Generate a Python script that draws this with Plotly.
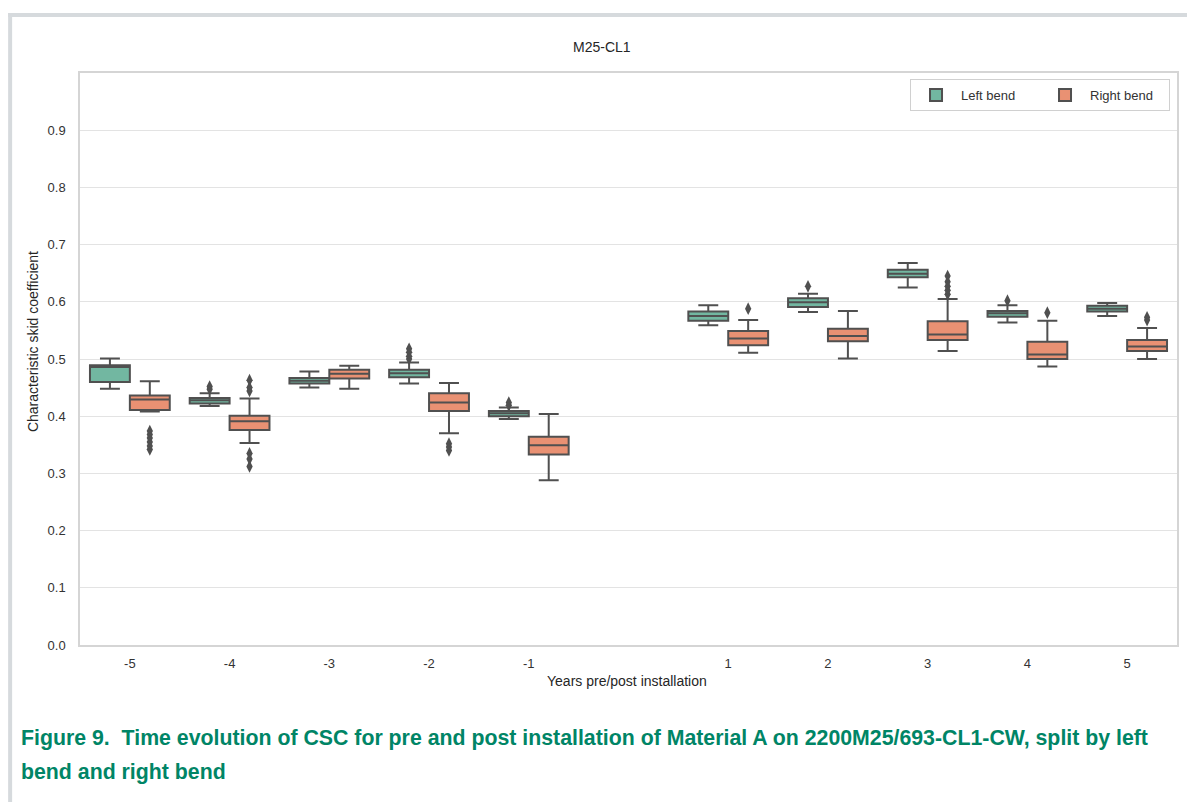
import plotly.graph_objects as go

# ---------------- data ----------------
years = [-5, -4, -3, -2, -1, 1, 2, 3, 4, 5]
tick_labels = ["-5", "-4", "-3", "-2", "-1", "1", "2", "3", "4", "5"]

left_lf = [0.448, 0.418, 0.450, 0.457, 0.395, 0.559, 0.582, 0.625, 0.564, 0.575]
left_q1 = [0.460, 0.422, 0.457, 0.468, 0.400, 0.567, 0.591, 0.643, 0.574, 0.583]
left_med = [0.486, 0.428, 0.462, 0.475, 0.405, 0.575, 0.599, 0.649, 0.580, 0.588]
left_q3 = [0.489, 0.432, 0.467, 0.481, 0.409, 0.583, 0.606, 0.656, 0.584, 0.593]
left_uf = [0.501, 0.440, 0.478, 0.494, 0.415, 0.594, 0.614, 0.668, 0.594, 0.598]

right_lf = [0.408, 0.353, 0.448, 0.370, 0.288, 0.511, 0.501, 0.514, 0.487, 0.500]
right_q1 = [0.411, 0.376, 0.466, 0.409, 0.333, 0.524, 0.531, 0.533, 0.500, 0.514]
right_med = [0.429, 0.391, 0.474, 0.424, 0.349, 0.536, 0.540, 0.543, 0.508, 0.522]
right_q3 = [0.436, 0.401, 0.481, 0.440, 0.364, 0.549, 0.553, 0.566, 0.530, 0.533]
right_uf = [0.461, 0.431, 0.488, 0.458, 0.404, 0.568, 0.584, 0.605, 0.567, 0.554]

left_out_year = [-4, -4, -2, -2, -2, -2, -1, -1, 2, 4]
left_out_val = [0.447, 0.452, 0.500, 0.505, 0.512, 0.518, 0.419, 0.424, 0.627, 0.602]

right_out_year = [-5, -5, -5, -5, -5, -5, -4, -4, -4, -4, -4, -4,
                  -2, -2, -2, 1, 3, 3, 3, 3, 3, 4, 5, 5]
right_out_val = [0.342, 0.348, 0.355, 0.362, 0.368, 0.374, 0.444, 0.450, 0.463, 0.312, 0.325, 0.335,
                 0.340, 0.346, 0.352, 0.588, 0.613, 0.620, 0.627, 0.635, 0.645, 0.581, 0.568, 0.573]

series_names = ["Left bend", "Right bend"]

# ---------------- style ----------------
GREEN = "#72b7a1"
ORANGE = "#e99173"
LINE = "#505050"
FONT = "Liberation Sans, Arial, sans-serif"
W, H = 1187, 802
PL, PR, PT, PB = 80, 1179, 73, 645
OFF = 0.2
BOXW = 0.4


def px(x):
    return (x - PL) / (PR - PL)


def py(y):
    return (PB - y) / (PB - PT)


fig = go.Figure()

groups = [
    (series_names[0], GREEN, -OFF, left_lf, left_q1, left_med, left_q3, left_uf, left_out_year, left_out_val),
    (series_names[1], ORANGE, OFF, right_lf, right_q1, right_med, right_q3, right_uf, right_out_year, right_out_val),
]

for name, color, off, lf, q1, med, q3, uf, oy, ov in groups:
    fig.add_trace(go.Box(
        name=name,
        x=[y + off for y in years],
        lowerfence=lf, q1=q1, median=med, q3=q3, upperfence=uf,
        width=BOXW,
        fillcolor=color,
        line=dict(color=LINE, width=2),
        whiskerwidth=0.5,
        boxpoints=False,
        hoverinfo="skip",
        showlegend=True,
    ))
    fig.add_trace(go.Scatter(
        x=[y + off for y in oy], y=ov,
        mode="markers",
        marker=dict(symbol="diamond-tall", size=9, color=LINE),
        showlegend=False, hoverinfo="skip",
    ))

shapes = [
    # outer frame (left and top)
    dict(type="rect", xref="paper", yref="paper", x0=px(8), x1=px(12), y0=py(H), y1=py(13),
         fillcolor="#d6dadd", line=dict(width=0), layer="below"),
    dict(type="rect", xref="paper", yref="paper", x0=px(8), x1=px(W + 5), y0=py(17), y1=py(13),
         fillcolor="#d6dadd", line=dict(width=0), layer="below"),
]

annotations = [
    dict(text="M25-CL1", xref="paper", yref="paper", x=px(603), y=py(47),
         xanchor="center", yanchor="middle", showarrow=False,
         font=dict(family=FONT, size=14, color="#262626")),
    dict(text="Characteristic skid coefficient", xref="paper", yref="paper", x=px(33), y=py(342),
         xanchor="center", yanchor="middle", showarrow=False, textangle=-90,
         font=dict(family=FONT, size=14, color="#262626")),
    dict(text="Years pre/post installation", xref="paper", yref="paper", x=px(628), y=py(681),
         xanchor="center", yanchor="middle", showarrow=False,
         font=dict(family=FONT, size=14, color="#262626")),
    dict(text="Figure 9.  Time evolution of CSC for pre and post installation of Material A on 2200M25/693-CL1-CW, split by left",
         xref="paper", yref="paper", x=px(19), y=py(738), xanchor="left", yanchor="middle", showarrow=False,
         font=dict(family=FONT, size=21.3, color="#008566", weight="bold")),
    dict(text="bend and right bend",
         xref="paper", yref="paper", x=px(19), y=py(772), xanchor="left", yanchor="middle", showarrow=False,
         font=dict(family=FONT, size=21.3, color="#008566", weight="bold")),
]

fig.update_layout(
    width=W, height=H,
    margin=dict(l=PL, r=W - PR, t=PT, b=H - PB, pad=0),
    paper_bgcolor="white", plot_bgcolor="white",
    boxmode="overlay",
    font=dict(family=FONT, size=13, color="#333333"),
    shapes=shapes,
    annotations=annotations,
    legend=dict(
        orientation="h", x=px(1172), y=py(79), xanchor="right", yanchor="top",
        bordercolor="#d0d0d0", borderwidth=1, bgcolor="white",
        font=dict(family=FONT, size=13, color="#333333"),
        itemwidth=40, entrywidth=74, tracegroupgap=0,
    ),
    xaxis=dict(
        range=[-5.5, 5.5], tickmode="array", tickvals=years, ticktext=tick_labels,
        showgrid=False, zeroline=False, showline=True, mirror=True, linecolor="#d5d5d5", linewidth=1.5,
        ticks="outside", ticklen=6, tickcolor="rgba(0,0,0,0)",
        tickfont=dict(family=FONT, size=13, color="#333333"),
    ),
    yaxis=dict(
        range=[0, 1.0], tickmode="array",
        tickvals=[0.0, 0.1, 0.2, 0.3, 0.4, 0.5, 0.6, 0.7, 0.8, 0.9],
        ticktext=["0.0", "0.1", "0.2", "0.3", "0.4", "0.5", "0.6", "0.7", "0.8", "0.9"],
        showgrid=True, gridcolor="#e3e3e3", gridwidth=1.2, zeroline=False,
        showline=True, mirror=True, linecolor="#d5d5d5", linewidth=1.5,
        ticks="outside", ticklen=10, tickcolor="rgba(0,0,0,0)",
        tickfont=dict(family=FONT, size=13, color="#333333"),
    ),
)

fig.write_html("out.html")
